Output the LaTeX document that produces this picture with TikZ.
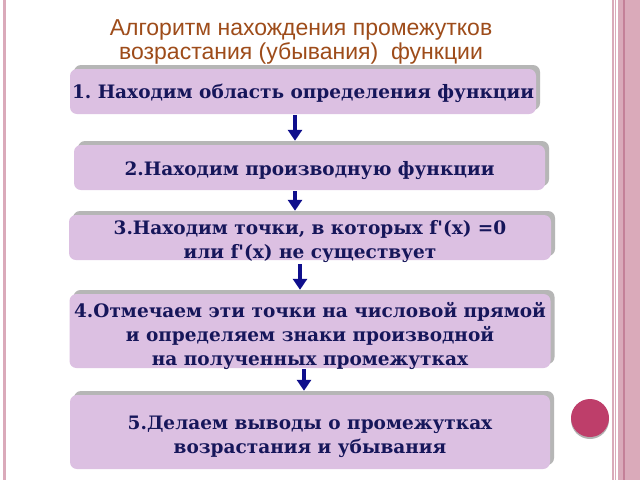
\documentclass[tikz,border=0pt]{standalone}
\usepackage{fontspec}
\setmainfont{Liberation Sans}
\newfontfamily\stepfont{DejaVu Serif}
\usetikzlibrary{arrows.meta}
\usetikzlibrary{positioning}
\usetikzlibrary{shadows}
\definecolor{boxfill}{RGB}{220,192,226}
\definecolor{boxshade}{RGB}{182,182,182}
\definecolor{steptext}{RGB}{22,22,90}
\definecolor{flowblue}{RGB}{15,15,140}
\definecolor{titlebrown}{RGB}{158,76,26}
\definecolor{framepink}{RGB}{218,170,186}
\definecolor{framedark}{RGB}{196,128,152}
\definecolor{dotred}{RGB}{190,62,106}
\newcommand{\stepnode}[6]{\node(#1)[item,minimum width=#4,minimum height=#5] at (#2) {};
  \node(#1text)[steplabel] at ([yshift=-#6]#1.center) {#3}}

\begin{document}
\begin{tikzpicture}[
        x=1pt,y=-1pt,
        every node/.style={inner sep=0pt},
        item/.style={rectangle,rounded corners=7pt,fill=boxfill,
                     drop shadow={shadow xshift=4pt,shadow yshift=4pt,fill=boxshade,opacity=1}},
        steplabel/.style={text=steptext,font=\stepfont\bfseries\frenchspacing\fontsize{18.5}{24}\selectfont,align=center},
        flow/.style={draw=flowblue,line width=3.5pt,-{Triangle[length=11pt,width=14pt]}},
        title/.style={text=titlebrown,font=\fontsize{23}{24}\selectfont,align=center},
        dot/.style={circle,minimum size=38pt,fill=dotred,
                    drop shadow={shadow xshift=0pt,shadow yshift=-2pt,fill=gray!60,opacity=1}}
      ]
      \useasboundingbox (0,0) rectangle (640,480);
      \fill[white] (0,0) rectangle (640,480);
      % frame of the slide
      \fill[framepink] (3,0) rectangle (6,480);
      \fill[framepink] (612,0) rectangle (613.5,480);
      \fill[framepink] (614.5,0) rectangle (616,480);
      \fill[framepink] (618,0) rectangle (640,480);
      \fill[framedark] (623,0) rectangle (625,480);

      \node(title)[title] at (301,42) {Алгоритм нахождения промежутков\\возрастания (убывания)\ \ функции};

      \stepnode{s1}{303,91.5}{1. Находим область определения функции}{466pt}{45pt}{1.5pt};
      \stepnode{s2}{309.5,167.5}{2.Находим производную функции}{471pt}{45pt}{3pt};
      \stepnode{s3}{310,237.5}{3.Находим точки, в которых f'(x) =0\\или f'(x) не существует}{482pt}{45pt}{4pt};
      \stepnode{s4}{310,331}{4.Отмечаем эти точки на числовой прямой\\и определяем знаки производной\\на полученных промежутках}{481pt}{74pt}{5pt};
      \stepnode{s5}{310,432}{5.Делаем выводы о промежутках\\возрастания и убывания}{480pt}{74pt}{5pt};

      \draw[flow] ([xshift=-8pt,yshift=-1pt]s1.south) -- ([xshift=-8pt,yshift=4pt]s1.south |- s2.north);
      \draw[flow] ([xshift=-14.5pt,yshift=-1pt]s2.south) -- ([xshift=-14.5pt,yshift=4pt]s2.south |- s3.north);
      \draw[flow] ([xshift=-10pt,yshift=-4pt]s3.south) -- ([xshift=-10pt,yshift=4pt]s3.south |- s4.north);
      \draw[flow] ([xshift=-6pt,yshift=-1pt]s4.south) -- ([xshift=-6pt,yshift=4pt]s4.south |- s5.north);

      \node(mark)[dot] at (590,418) {};
\end{tikzpicture}
\end{document}
